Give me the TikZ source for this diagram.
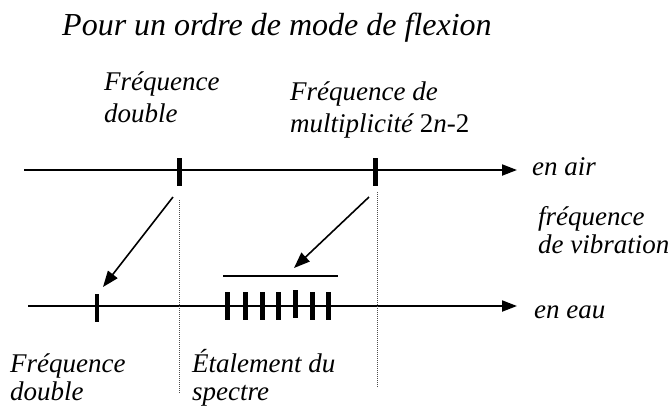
\documentclass[tikz,border=0pt]{standalone}
\usepackage{fontspec}
\setmainfont{Liberation Serif}
\usetikzlibrary{arrows.meta}
\begin{document}
\begin{tikzpicture}[x=1pt,y=-1pt,
  lbl/.style={anchor=base west,inner sep=0pt,font=\fontsize{27}{30}\selectfont\itshape},
  ttl/.style={anchor=base west,inner sep=0pt,font=\fontsize{32}{36}\selectfont\itshape},
  axis/.style={line width=2pt,-{Triangle[length=15pt,width=11pt]}},
  tick/.style={line width=5pt},
  conn/.style={line width=1.6pt,-{Triangle[length=16pt,width=12pt]}},
  guide/.style={line width=0.7pt,dash pattern=on 1pt off 1pt,black!70},
  bar/.style={line width=2.5pt}]
\useasboundingbox (0,0) rectangle (668,408);
% title
\node[ttl] (title) at (62,35) {Pour un ordre de mode de flexion};
% top labels
\node[lbl] (fd1a) at (104,90) {Fréquence};
\node[lbl] (fd1b) at (104,122) {double};
\node[lbl] (fm1) at (290,100) {Fréquence de};
\node[lbl] (fm2) at (290,132) {multiplicité {\upshape 2}\textit{n}{\upshape -2}};
\node[lbl] (air) at (532,175) {en air};
\node[lbl] (fv1) at (538,225) {fréquence};
\node[lbl] (fv2) at (538,253) {de vibration};
\node[lbl] (eau) at (534,318) {en eau};
\node[lbl] (fd2a) at (10,372) {Fréquence};
\node[lbl] (fd2b) at (10,400) {double};
\node[lbl] (et1) at (192,372) {Étalement du};
\node[lbl] (et2) at (192,400) {spectre};
% axes
\coordinate (a0) at (24,170);
\coordinate (a1) at (517,170);
\coordinate (b0) at (28,306);
\coordinate (b1) at (517,306);
\draw[axis] (a0) -- (a1);
\draw[axis] (b0) -- (b1);
% top ticks
\coordinate (t1top) at (179,158);
\coordinate (t1bot) at (179,186);
\coordinate (t2top) at (375,158);
\coordinate (t2bot) at (375,186);
\draw[tick] (t1top) -- (t1bot);
\draw[tick] (t2top) -- (t2bot);
% bottom ticks
\coordinate (u0top) at (97,294);
\coordinate (u0bot) at (97,322);
\draw[tick,line width=4.5pt] (u0top) -- (u0bot);
\foreach \x/\yt in {227/292,245/292,262/292,278/292,295/290,312/292,328/292}{
  \draw[tick] (\x,\yt) -- (\x,\yt+28);
}
% spread bar
\coordinate (bar0) at (223,276);
\coordinate (bar1) at (338,276);
\draw[bar] (bar0) -- (bar1);
% connectors
\coordinate (c1s) at (173,197);
\coordinate (c1e) at (103,287);
\coordinate (c2s) at (369,197);
\coordinate (c2e) at (294,268);
\draw[conn] (c1s) -- (c1e);
\draw[conn] (c2s) -- (c2e);
% dotted guides
\coordinate (g1s) at (179,200);
\coordinate (g1e) at (179,393);
\coordinate (g2s) at (377,192);
\coordinate (g2e) at (377,388);
\draw[guide] (g1s) -- (g1e);
\draw[guide] (g2s) -- (g2e);
\end{tikzpicture}
\end{document}
